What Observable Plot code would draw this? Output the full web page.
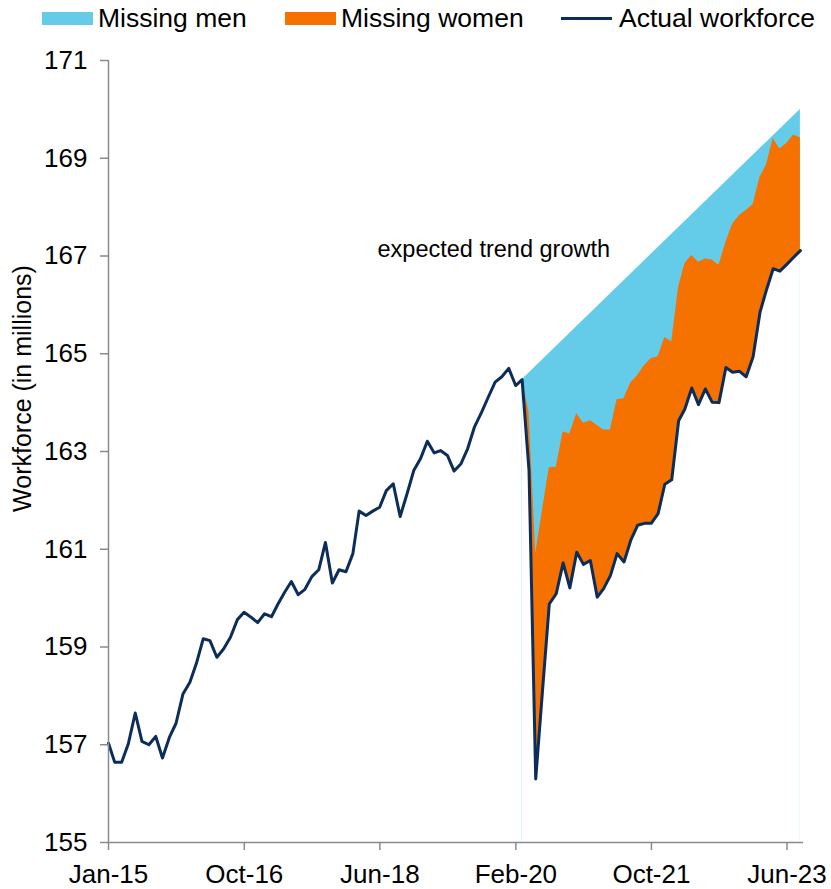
<!DOCTYPE html>
<html>
<head>
<meta charset="utf-8">
<script src="https://cdn.jsdelivr.net/npm/d3@7"></script>
<script src="https://cdn.jsdelivr.net/npm/@observablehq/plot@0.6"></script>
<style>
  body { margin: 0; background: #fff; font-family: "Liberation Sans", Arial, sans-serif; }
  #legend { position: relative; width: 831px; height: 38px; }
  #legend .sw { position: absolute; top: 12px; width: 51px; height: 13px; }
  #legend .ln { position: absolute; top: 17px; width: 51px; height: 3px; }
  #legend .lab { position: absolute; top: 4.6px; font-size: 26.5px; line-height: 1; color: #000; white-space: nowrap; }
</style>
</head>
<body>
<div id="legend"></div>
<div id="chart"></div>
<script>
// Monthly labour force (millions), Jan 2015 – Jul 2023, one value per month end
const firstMonth = "2015-01";
const workforce = [
  157.03, 156.64, 156.64, 157.02, 157.65, 157.07, 157.00, 157.17, 156.73, 157.15, 157.44, 158.04,
  158.28, 158.66, 159.17, 159.13, 158.79, 158.96, 159.20, 159.56, 159.71, 159.61, 159.50, 159.68,
  159.62, 159.87, 160.12, 160.34, 160.07, 160.18, 160.44, 160.58, 161.14, 160.31, 160.58, 160.54,
  160.91, 161.78, 161.69, 161.78, 161.86, 162.20, 162.34, 161.67, 162.12, 162.61, 162.85, 163.21,
  162.97, 163.02, 162.92, 162.60, 162.75, 163.06, 163.51, 163.80, 164.11, 164.42, 164.53, 164.70,
  164.35, 164.47, 162.61, 156.30, 158.14, 159.88, 160.09, 160.72, 160.21, 160.94, 160.69, 160.77,
  160.02, 160.19, 160.46, 160.91, 160.74, 161.18, 161.49, 161.53, 161.53, 161.73, 162.33, 162.42,
  163.63, 163.87, 164.30, 163.96, 164.28, 164.01, 164.00, 164.72, 164.62, 164.64, 164.53, 164.94,
  165.85, 166.29, 166.74, 166.69, 166.83, 166.97, 167.11
];

// Workforce level if the missing women had returned, Feb 2020 – Jul 2023
const gapStart = "2020-02";
const womenLevel = [
  164.47, 163.80, 160.91, 161.81, 162.67, 162.68, 163.40, 163.36, 163.77, 163.58, 163.63, 163.53,
  163.44, 163.44, 164.06, 164.08, 164.40, 164.55, 164.76, 164.90, 164.94, 165.33, 165.24, 166.36,
  166.84, 167.01, 166.87, 166.94, 166.92, 166.81, 167.28, 167.65, 167.83, 167.93, 168.05, 168.61,
  168.85, 169.40, 169.19, 169.30, 169.47, 169.42
];

// Expected trend growth: a straight line between its two ends
const trendMonths = ["2020-02", "2023-07"];
const trendValues = [164.47, 170.0];

// Axis ticks
const xTickDates = ["2015-01-31", "2016-10-01", "2018-06-01", "2020-02-01", "2021-10-01", "2023-06-01"];
const yTicks = [155, 157, 159, 161, 163, 165, 167, 169, 171];

const colors = { men: "#64cbe8", women: "#f57100", actual: "#0c2d5a", axis: "#8a8a8a" };
const legendItems = [
  { label: "Missing men", kind: "swatch", color: colors.men, left: 42, text: 98 },
  { label: "Missing women", kind: "swatch", color: colors.women, left: 285, text: 341 },
  { label: "Actual workforce", kind: "line", color: colors.actual, left: 561, text: 619 }
];

// Last day of the month that lies k months after "YYYY-MM"
function monthEnd(ym, k = 0) {
  const [y, m] = ym.split("-").map(Number);
  return new Date(Date.UTC(y, m + k, 0));
}
function monthsBetween(a, b) {
  const [ya, ma] = a.split("-").map(Number);
  const [yb, mb] = b.split("-").map(Number);
  return (yb - ya) * 12 + (mb - ma);
}

const series = workforce.map((value, i) => ({ date: monthEnd(firstMonth, i), value }));
const offset = monthsBetween(firstMonth, gapStart);
const gap = womenLevel.map((women, i) => ({
  date: monthEnd(gapStart, i),
  actual: workforce[offset + i],
  women
}));
const trend = trendMonths.map((m, i) => ({ date: monthEnd(m), value: trendValues[i] }));
const xStart = series[0].date;

// Legend
const legend = document.getElementById("legend");
for (const item of legendItems) {
  const sw = document.createElement("div");
  sw.className = item.kind === "line" ? "ln" : "sw";
  sw.style.left = item.left + "px";
  sw.style.background = item.color;
  legend.appendChild(sw);
  const lab = document.createElement("div");
  lab.className = "lab";
  lab.style.left = item.text + "px";
  lab.textContent = item.label;
  legend.appendChild(lab);
}

const chart = Plot.plot({
  width: 831,
  height: 851,
  marginTop: 22,
  marginBottom: 47,
  marginLeft: 108,
  marginRight: 28,
  style: { fontFamily: "Liberation Sans, Arial, sans-serif", fontSize: "26px", color: "#000", background: "#fff" },
  x: { type: "utc", domain: [xStart, new Date(Date.UTC(2023, 7, 14))] },
  y: { domain: [155, 171] },
  marks: [
    // trend band, then mask below the actual line, then the missing-women band
    Plot.areaY(trend, { x: "date", y1: 155, y2: "value", fill: colors.men }),
    Plot.areaY(gap, { x: "date", y1: 155, y2: "actual", fill: "#fff" }),
    Plot.areaY(gap, { x: "date", y1: "actual", y2: "women", fill: colors.women }),
    Plot.lineY(series, { x: "date", y: "value", stroke: colors.actual, strokeWidth: 3, strokeLinejoin: "round" }),
    Plot.ruleY([155], { stroke: colors.axis, strokeWidth: 1.5 }),
    Plot.ruleX([xStart], { stroke: colors.axis, strokeWidth: 1.5 }),
    Plot.axisX({
      ticks: xTickDates.map(d => new Date(d)),
      tickFormat: d3.utcFormat("%b-%y"),
      tickSize: 8, tickPadding: 14, stroke: colors.axis, strokeWidth: 1.5, color: "#000", label: null
    }),
    Plot.axisY({
      ticks: yTicks, tickFormat: d => String(d),
      tickSize: 8, tickPadding: 13, stroke: colors.axis, strokeWidth: 1.5, color: "#000", label: null
    }),
    Plot.text(["Workforce (in millions)"], {
      text: d => d, frameAnchor: "left", textAnchor: "middle", lineAnchor: "middle",
      rotate: -90, dx: -86, dy: -63, fontSize: 25, fill: "#000"
    }),
    Plot.text(["expected trend growth"], {
      text: d => d, frameAnchor: "top-left", textAnchor: "start", lineAnchor: "top",
      dx: 269, dy: 180, fontSize: 23.5, fill: "#000"
    })
  ]
});
document.getElementById("chart").appendChild(chart);
</script>
</body>
</html>
